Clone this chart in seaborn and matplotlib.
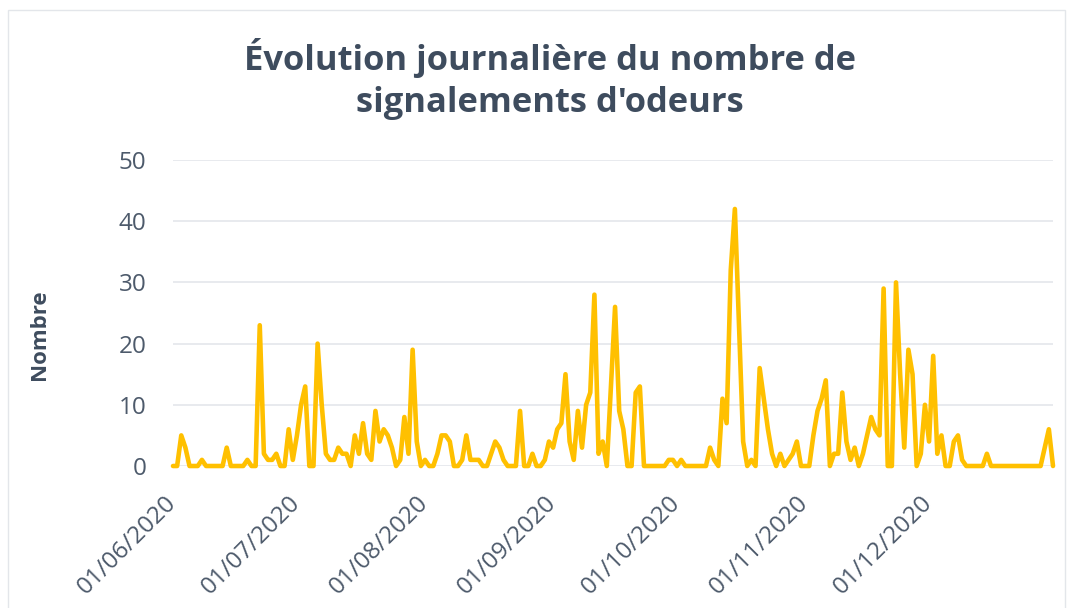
import matplotlib
matplotlib.use("Agg")
import matplotlib.pyplot as plt
import matplotlib.dates as mdates
from matplotlib.patches import Rectangle
import pandas as pd
import seaborn as sns

# Daily number of odour reports
juin = [0, 0, 5, 3, 0, 0, 0, 1, 0, 0,
        0, 0, 0, 3, 0, 0, 0, 0, 1, 0,
        0, 23, 2, 1, 1, 2, 0, 0, 6, 1]
juillet = [5, 10, 13, 0, 0, 20, 10, 2, 1, 1,
           3, 2, 2, 0, 5, 2, 7, 2, 1, 9,
           4, 6, 5, 3, 0, 1, 8, 2, 19, 4,
           0]
aout = [1, 0, 0, 2, 5, 5, 4, 0, 0, 1,
        5, 1, 1, 1, 0, 0, 2, 4, 3, 1,
        0, 0, 0, 9, 0, 0, 2, 0, 0, 1,
        4]
septembre = [3, 6, 7, 15, 4, 1, 9, 3, 10, 12,
             28, 2, 4, 0, 13, 26, 9, 6, 0, 0,
             12, 13, 0, 0, 0, 0, 0, 0, 1, 1]
octobre = [0, 1, 0, 0, 0, 0, 0, 0, 3, 1,
           0, 11, 7, 32, 42, 23, 4, 0, 1, 0,
           16, 11, 6, 2, 0, 2, 0, 1, 2, 4,
           0]
novembre = [0, 0, 5, 9, 11, 14, 0, 2, 2, 12,
            4, 1, 3, 0, 2, 5, 8, 6, 5, 29,
            0, 0, 30, 15, 3, 19, 15, 0, 2, 10]
decembre = [4, 18, 2, 5, 0, 0, 4, 5, 1, 0,
            0, 0, 0, 0, 2, 0, 0, 0, 0, 0,
            0, 0, 0, 0, 0, 0, 0, 0, 3, 6,
            0]

valeurs = juin + juillet + aout + septembre + octobre + novembre + decembre
dates = pd.date_range("2020-06-01", periods=len(valeurs), freq="D")
df = pd.DataFrame({"date": dates, "Nombre": valeurs})

titre = "Évolution journalière du nombre de\nsignalements d'odeurs"
couleur_ligne = "#FFC000"
couleur_titre = "#3E4C5E"
couleur_ticks = "#4D5A6B"

sns.set_theme(style="white")
plt.rcParams["font.family"] = ["Open Sans", "DejaVu Sans"]

W, H = 1072, 608
fig = plt.figure(figsize=(W / 100, H / 100), dpi=100)
fig.patch.set_facecolor("white")
ax = fig.add_axes([173 / W, 1 - 466 / H, 880 / W, 306 / H])

sns.lineplot(data=df, x="date", y="Nombre", ax=ax, color=couleur_ligne,
             linewidth=3.3, clip_on=False)

ax.set_ylim(0, 50)
ax.set_yticks(range(0, 51, 10))
ax.set_xlim(dates[0], dates[-1])
ax.xaxis.set_major_locator(mdates.MonthLocator())
ax.xaxis.set_major_formatter(mdates.DateFormatter("%d/%m/%Y"))

ax.grid(axis="y", color="#E1E4EA", linewidth=1.1)
ax.grid(axis="x", visible=False)
ax.set_axisbelow(True)
for s in ax.spines.values():
    s.set_visible(False)

ax.tick_params(axis="both", length=0, labelsize=17.5, labelcolor=couleur_ticks)
ax.tick_params(axis="y", pad=19)
ax.tick_params(axis="x", pad=24)

ax.set_xlabel("")
ax.set_ylabel("Nombre", fontsize=16, fontweight="bold", color=couleur_titre)
ax.yaxis.set_label_coords(-0.14, 0.428)

fig.text(550 / W, 1 - 38 / H, titre, ha="center", va="top", fontsize=24.8,
         fontweight="bold", color=couleur_titre, linespacing=1.3)

fig.patches.append(Rectangle((8 / W, -0.05), (1065 - 8) / W, 1 - 10 / H + 0.05,
                             transform=fig.transFigure, fill=False,
                             edgecolor="#E3E6EA", linewidth=1.0))

fig.canvas.draw()
for lbl in ax.get_xticklabels():
    lbl.set_rotation(45)
    lbl.set_ha("right")
    lbl.set_va("center")
    lbl.set_rotation_mode("anchor")

fig.savefig("out.png", dpi=100, facecolor="white")
